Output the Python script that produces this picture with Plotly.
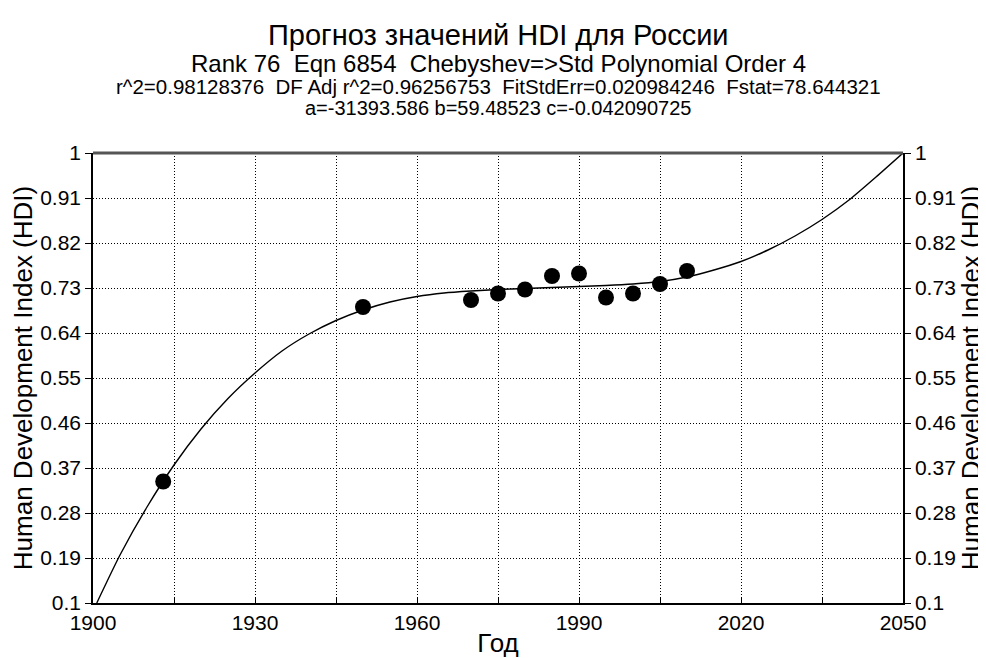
import plotly.graph_objects as go

# Observed data points (year, HDI)
years = [1913, 1950, 1970, 1975, 1980, 1985, 1990, 1995, 2000, 2005, 2010]
hdi = [0.343, 0.692, 0.706, 0.719, 0.727, 0.754, 0.759, 0.711, 0.719, 0.738, 0.764]

# Fitted curve
curve_years = [1900.7, 1905, 1910, 1915, 1920, 1925, 1930, 1935, 1940, 1945, 1950, 1955,
               1960, 1965, 1970, 1975, 1980, 1985, 1990, 1995, 2000, 2005, 2010, 2015,
               2020, 2025, 2030, 2035, 2040, 2045, 2050]
curve_hdi = [0.100, 0.196, 0.292, 0.376, 0.448, 0.509, 0.560, 0.604, 0.638, 0.665, 0.686, 0.702,
             0.713, 0.720, 0.724, 0.727, 0.729, 0.731, 0.733, 0.735, 0.738, 0.743, 0.752, 0.766,
             0.783, 0.806, 0.834, 0.867, 0.906, 0.952, 1.000]

x_ticks = [1900, 1930, 1960, 1990, 2020, 2050]
y_ticks = [0.1, 0.19, 0.28, 0.37, 0.46, 0.55, 0.64, 0.73, 0.82, 0.91, 1.0]
y_tick_labels = ["0.1", "0.19", "0.28", "0.37", "0.46", "0.55", "0.64", "0.73", "0.82", "0.91", "1"]

title_lines = [
    "Прогноз значений HDI для России",
    "Rank 76  Eqn 6854  Chebyshev=>Std Polynomial Order 4",
    "r^2=0.98128376  DF Adj r^2=0.96256753  FitStdErr=0.020984246  Fstat=78.644321",
    "a=-31393.586 b=59.48523 c=-0.042090725",
]
x_title = "Год"
y_title = "Human Development Index (HDI)"

FONT = "Liberation Sans, Arial, sans-serif"
GRID_DASH = "1px,2px"

# The page body has an 8px margin, so the figure is sized/positioned to compensate
PAGE_OFF = 8
W, H = 986 - PAGE_OFF, 658 - PAGE_OFF
L, T, PW, PH = 93 - PAGE_OFF, 153 - PAGE_OFF, 810, 450

fig = go.Figure()
fig.add_trace(go.Scatter(x=curve_years, y=curve_hdi, mode="lines",
                         line=dict(color="black", width=1.4, shape="spline", smoothing=0.6),
                         hoverinfo="skip", showlegend=False))
fig.add_trace(go.Scatter(x=years, y=hdi, mode="markers",
                         marker=dict(color="black", size=16, line=dict(width=0)),
                         showlegend=False))
# companion trace for the right axis
fig.add_trace(go.Scatter(x=years, y=hdi, mode="markers", yaxis="y2",
                         marker=dict(opacity=0), hoverinfo="skip", showlegend=False))

TICK_FONT = dict(family=FONT, size=21, color="black")
TITLE_FONT = dict(family=FONT, size=26, color="black")

fig.update_layout(
    width=W, height=H,
    paper_bgcolor="white", plot_bgcolor="white",
    margin=dict(l=L, r=W - L - PW, t=T, b=H - T - PH, pad=0),
    font=dict(family=FONT, color="black"),
    xaxis=dict(range=[1900, 2050], tickmode="array", tickvals=x_ticks,
               ticks="inside", ticklen=6, tickcolor="black",
               showgrid=True, gridcolor="black", griddash=GRID_DASH, gridwidth=1,
               showline=True, linecolor="black", linewidth=1.5, zeroline=False,
               tickfont=TICK_FONT, automargin=False,
               minor=dict(dtick=15, tick0=1900, showgrid=True, gridcolor="black",
                          griddash=GRID_DASH, ticks="inside", ticklen=6, tickcolor="black"),
               title=dict(text=x_title, font=TITLE_FONT, standoff=2)),
    yaxis=dict(range=[0.1, 1.0], tickmode="array", tickvals=y_ticks, ticktext=y_tick_labels,
               ticks="outside", ticklen=6, tickcolor="black",
               showgrid=True, gridcolor="black", griddash=GRID_DASH, gridwidth=1,
               showline=True, linecolor="black", linewidth=1.5, zeroline=False,
               tickfont=TICK_FONT, automargin=False,
               title=dict(text=y_title, font=TITLE_FONT, standoff=4)),
    yaxis2=dict(range=[0.1, 1.0], tickmode="array", tickvals=y_ticks, ticktext=y_tick_labels,
                ticks="outside", ticklen=6, tickcolor="black", overlaying="y", side="right",
                showgrid=False, showline=True, linecolor="black", linewidth=1.5,
                zeroline=False, tickfont=TICK_FONT, automargin=False,
                title=dict(text=y_title, font=TITLE_FONT, standoff=4)),
    shapes=[dict(type="line", xref="paper", yref="paper", x0=0, x1=1, y0=1, y1=1,
                 line=dict(color="#555555", width=3))],
)

sizes = [29, 24, 20.5, 20]
ys = [35, 63, 87, 108]
for txt, s, yy in zip(title_lines, sizes, ys):
    fig.add_annotation(text=txt, xref="paper", x=0.5, yref="paper",
                       y=1 + (T - (yy - PAGE_OFF)) / PH, xanchor="center", yanchor="middle",
                       showarrow=False, font=dict(family=FONT, size=s, color="black"))

fig.write_html("out.html")
